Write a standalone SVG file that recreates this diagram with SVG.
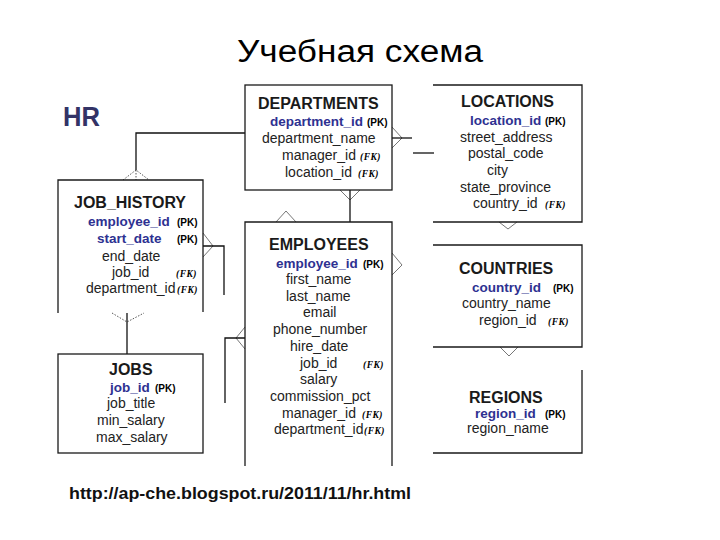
<svg xmlns="http://www.w3.org/2000/svg" width="720" height="540" viewBox="0 0 720 540">
<style>
  .box{fill:none;stroke:#1a1a1a;stroke-width:1.3}
  .ln{fill:none;stroke:#111;stroke-width:1.3}
  .cf{fill:none;stroke:#666;stroke-width:0.9}
  .cfd{fill:none;stroke:#444;stroke-width:0.9;stroke-dasharray:1.5 1.5}
  text{font-family:"Liberation Sans",Arial,sans-serif}
  .t{font-size:16px;font-weight:bold;fill:#1a1a1a}
  .f{font-size:14px;fill:#222}
  .pk{font-size:13.5px;font-weight:bold;fill:#2e3191}
  .pkt{font-size:10px;font-weight:bold;fill:#000}
  .fk{font-family:"Liberation Serif","Times New Roman",serif;font-style:italic;font-weight:bold;font-size:9.5px;fill:#000;letter-spacing:0.5px}
</style>
<rect width="720" height="540" fill="#fff"/>
<text x="360" y="62" text-anchor="middle" font-family="'Open Sans','Noto Sans',sans-serif" font-size="31" fill="#000" textLength="246" lengthAdjust="spacingAndGlyphs">Учебная схема</text>
<text x="63" y="126" font-size="27" font-weight="bold" fill="#333366" textLength="37" lengthAdjust="spacingAndGlyphs">HR</text>

<g id="connectors">
  <path class="ln" d="M245,133 H136 V170"/>
  <path class="cfd" d="M123,180 L136,170 L149,180 M136,170 V180"/>
  <path class="cf" d="M392,127 L402,138 L392,148"/>
  <path class="ln" d="M392,138 H412"/>
  <path class="ln" d="M413,153 H434"/>
  <path class="cf" d="M340,190 L350,200 L360,190"/>
  <path class="ln" d="M350,190 V222"/>
  <path class="cf" d="M276,222 L286,211 L296,222"/>
  <path class="cf" d="M392,253 L402,265 L392,275"/>
  <path class="cf" d="M203,233 L213,246 L203,257"/>
  <path class="ln" d="M203,246 H224 V295"/>
  <path class="cf" d="M245,327 L236,338 L245,349"/>
  <path class="ln" d="M245,338 H225 V403"/>
  <path class="cfd" d="M112,313 L127,322 L144,313"/>
  <path class="ln" d="M127,313 V354"/>
  <path class="cf" d="M499,222 L508,229 L517,222"/>
  <path class="cf" d="M500,347 L509,356 L518,347"/>
</g>

<g id="departments">
  <rect class="box" x="245" y="85" width="147" height="105"/>
  <text class="t" x="258" y="109">DEPARTMENTS</text>
  <text class="pk" x="270" y="126">department_id</text><text class="pkt" x="367" y="126">(PK)</text>
  <text class="f" x="262" y="143">department_name</text>
  <text class="f" x="282" y="160">manager_id</text><text class="fk" x="360" y="160">(FK)</text>
  <text class="f" x="285" y="177">location_id</text><text class="fk" x="358" y="177">(FK)</text>
</g>

<g id="locations">
  <path class="box" d="M433,85 H582 V222 H433"/>
  <text class="t" x="461" y="107">LOCATIONS</text>
  <text class="pk" x="470" y="125">location_id</text><text class="pkt" x="545" y="125">(PK)</text>
  <text class="f" x="460" y="142">street_address</text>
  <text class="f" x="468" y="158">postal_code</text>
  <text class="f" x="487" y="175">city</text>
  <text class="f" x="460" y="192">state_province</text>
  <text class="f" x="473" y="208">country_id</text><text class="fk" x="545" y="208">(FK)</text>
</g>

<g id="job_history">
  <path class="box" d="M58,313 V180 H203 V312"/>
  <text class="t" x="74" y="208">JOB_HISTORY</text>
  <text class="pk" x="88" y="226">employee_id</text><text class="pkt" x="177" y="226">(PK)</text>
  <text class="pk" x="97" y="243">start_date</text><text class="pkt" x="177" y="243">(PK)</text>
  <text class="f" x="102" y="261">end_date</text>
  <text class="f" x="112" y="277">job_id</text><text class="fk" x="176" y="277">(FK)</text>
  <text class="f" x="86" y="293">department_id</text><text class="fk" x="177" y="293">(FK)</text>
</g>

<g id="employees">
  <path class="box" d="M245,466 V222 H392 V466"/>
  <text class="t" x="269" y="250">EMPLOYEES</text>
  <text class="pk" x="276" y="268">employee_id</text><text class="pkt" x="363" y="268">(PK)</text>
  <text class="f" x="286" y="284">first_name</text>
  <text class="f" x="286" y="301">last_name</text>
  <text class="f" x="303" y="317">email</text>
  <text class="f" x="273" y="334">phone_number</text>
  <text class="f" x="290" y="351">hire_date</text>
  <text class="f" x="300" y="368">job_id</text><text class="fk" x="363" y="368">(FK)</text>
  <text class="f" x="300" y="384">salary</text>
  <text class="f" x="270" y="401">commission_pct</text>
  <text class="f" x="282" y="418">manager_id</text><text class="fk" x="362" y="418">(FK)</text>
  <text class="f" x="274" y="434">department_id</text><text class="fk" x="364" y="434">(FK)</text>
</g>

<g id="countries">
  <path class="box" d="M433,245 H582 V347 H433"/>
  <text class="t" x="459" y="274">COUNTRIES</text>
  <text class="pk" x="472" y="292">country_id</text><text class="pkt" x="553" y="292">(PK)</text>
  <text class="f" x="462" y="308">country_name</text>
  <text class="f" x="479" y="325">region_id</text><text class="fk" x="548" y="325">(FK)</text>
</g>

<g id="regions">
  <path class="box" d="M582,370 V453 H433"/>
  <text class="t" x="469" y="403">REGIONS</text>
  <text class="pk" x="475" y="418">region_id</text><text class="pkt" x="545" y="418">(PK)</text>
  <text class="f" x="467" y="433">region_name</text>
</g>

<g id="jobs">
  <rect class="box" x="58" y="354" width="145" height="99"/>
  <text class="t" x="109" y="375">JOBS</text>
  <text class="pk" x="110" y="392">job_id</text><text class="pkt" x="155" y="392">(PK)</text>
  <text class="f" x="107" y="408">job_title</text>
  <text class="f" x="97" y="425">min_salary</text>
  <text class="f" x="96" y="442">max_salary</text>
</g>

<text x="69" y="499" font-size="17" font-weight="bold" fill="#111" textLength="342" lengthAdjust="spacingAndGlyphs">http://ap-che.blogspot.ru/2011/11/hr.html</text>
</svg>
